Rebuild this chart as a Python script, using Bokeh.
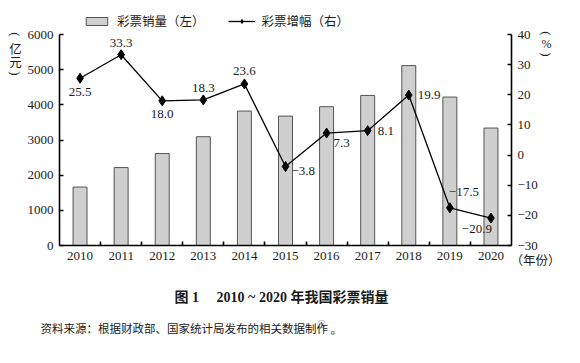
import math
from bokeh.plotting import figure
from bokeh.models import (Range1d, LinearAxis, FixedTicker, Label, Legend,
                          LegendItem, ColumnDataSource)
from bokeh.embed import file_html
from bokeh.resources import INLINE

# ---------------- data ----------------
years = list(range(2010, 2021))
sales = [1662, 2216, 2615, 3093, 3823, 3679, 3947, 4267, 5115, 4221, 3340]   # 亿元
growth = [25.5, 33.3, 18.0, 18.3, 23.6, -3.8, 7.3, 8.1, 19.9, -17.5, -20.9]  # %
growth_labels = [f"{g:.1f}".replace("-", "\u2212") for g in growth]
left_ticks = [0, 1000, 2000, 3000, 4000, 5000, 6000]
right_ticks = [-30, -20, -10, 0, 10, 20, 30, 40]
legend_labels = ["彩票销量（左）", "彩票增幅（右）"]
left_unit = ["亿", "元"]
right_unit = ["%"]
x_unit = "（年份）"
caption = "图 1\u00a0\u00a0\u00a0\u00a0 2010 ~ 2020 年我国彩票销量"
source_note = "资料来源：根据财政部、国家统计局发布的相关数据制作"

# ---------------- layout (page pixels) ----------------
W, H = 572, 355
AL, AR, AT, AB = 59, 511, 34, 245          # axes box: left, right, top(6000/40), bottom(0/-30)
SERIF = "Liberation Serif"
CJK = "Noto Sans CJK SC"
INK = "#1a1a1a"

x0, x1 = years[0] - 0.5, years[-1] + 0.5
pxx = (AR - AL) / (x1 - x0)
l0, l1 = left_ticks[0], left_ticks[-1]
pyl = (AB - AT) / (l1 - l0)
r0, r1 = right_ticks[0], right_ticks[-1]
pyr = (AB - AT) / (r1 - r0)

p = figure(width=W, height=H, output_backend="svg", toolbar_location=None,
           x_axis_location=None, y_axis_location=None,
           x_range=Range1d(x0 - AL / pxx, x1 + (W - AR) / pxx),
           y_range=Range1d(l0 - (H - AB) / pyl, l1 + AT / pyl),
           min_border=0, min_border_left=0, min_border_right=0,
           min_border_top=0, min_border_bottom=0)
p.extra_y_ranges = {"pct": Range1d(r0 - (H - AB) / pyr, r1 + AT / pyr)}
p.grid.visible = False
p.outline_line_color = None
p.background_fill_color = "white"
p.border_fill_color = "white"

def style_axis(ax):
    ax.axis_line_color = "black"
    ax.axis_line_width = 1.6
    ax.major_tick_line_color = "black"
    ax.major_tick_line_width = 1.6
    ax.major_tick_in = 4
    ax.major_tick_out = 0
    ax.minor_tick_line_color = None
    ax.major_label_text_font = SERIF
    ax.major_label_text_font_size = "13px"
    ax.major_label_text_color = INK
    ax.major_label_standoff = 6

ya = LinearAxis(ticker=FixedTicker(ticks=left_ticks), bounds=(l0, l1), fixed_location=x0)
style_axis(ya)
p.add_layout(ya, "left")

ra = LinearAxis(y_range_name="pct", ticker=FixedTicker(ticks=right_ticks),
                bounds=(r0, r1), fixed_location=x1)
style_axis(ra)
p.add_layout(ra, "right")

boundaries = [y + 0.5 for y in years[:-1]]
xa = LinearAxis(ticker=FixedTicker(ticks=years, minor_ticks=boundaries),
                bounds=(x0, x1), fixed_location=l0)
style_axis(xa)
xa.major_tick_line_color = None
xa.minor_tick_line_color = "black"
xa.minor_tick_line_width = 1.6
xa.minor_tick_in = 4
xa.minor_tick_out = 0
xa.major_label_overrides = {y: str(y) for y in years}
p.add_layout(xa, "below")

src = ColumnDataSource(dict(year=years, sales=sales, growth=growth, lab=growth_labels))
bars = p.vbar(x="year", top="sales", width=0.34, source=src,
              fill_color="#cfcfcf", line_color="#555555", line_width=1)

ln = p.line(x="year", y="growth", source=src, y_range_name="pct",
            line_color="black", line_width=1.3)
mk = p.scatter(x="year", y="growth", source=src, y_range_name="pct",
               marker="diamond", size=10, fill_color="black", line_color="black")

# point labels (offsets in pixels, +dy = downward)
offs = [(0, 14, "center"), (0, -12, "center"), (0, 13, "center"), (0, -12, "center"),
        (0, -13, "center"), (6, 4, "left"), (7, 10, "left"), (10, 0, "left"),
        (9, 0, "left"), (-1, -16, "left"), (1, 11, "right")]
for i, (dx, dy, al) in enumerate(offs):
    p.add_layout(Label(x=years[i], y=growth[i], y_range_name="pct",
                       text=growth_labels[i], x_offset=dx, y_offset=-dy,
                       text_align=al, text_baseline="middle",
                       text_font=SERIF, text_font_size="13px", text_color=INK))

leg = Legend(items=[LegendItem(label=legend_labels[0], renderers=[bars]),
                    LegendItem(label=legend_labels[1], renderers=[ln, mk])],
             orientation="horizontal", location=(83, H - 30),
             glyph_width=27, glyph_height=10, label_height=16, label_standoff=7,
             spacing=23, padding=0, margin=0, border_line_color=None,
             background_fill_alpha=0, label_text_font=CJK,
             label_text_font_size="12.5px", label_text_color=INK)
p.add_layout(leg, "center")

# texts placed in page pixels (screen units: origin bottom-left, y up)
def slabel(rx, ry, text, size="12.5px", font=CJK, align="center", bold=False,
           color=INK, angle=0.0):
    p.add_layout(Label(x=rx, y=H - ry, x_units="screen", y_units="screen",
                       text=text, text_align=align, text_baseline="middle",
                       text_font=font, text_font_size=size, text_color=color,
                       text_font_style="bold" if bold else "normal", angle=angle))

def vparen(rx, ry, ch):
    slabel(rx, ry, ch, size="13px", font=SERIF, angle=-math.pi / 2)

# vertical unit labels: (亿元) on the left, (%) on the right
vparen(15, 34, "(")
for ch, ry in zip(left_unit, [48, 61]):
    slabel(15, ry, ch)
vparen(15, 73, ")")
vparen(546, 33, "(")
slabel(546, 43, right_unit[0], size="12px", font=SERIF)
vparen(546, 54, ")")

slabel(510, 259, x_unit, align="left")
slabel(281, 297, caption, size="14px", font=f"{SERIF}, {CJK}", bold=True)
slabel(40, 327, source_note, size="11.5px", align="left")
slabel(317, 323, "①", size="8px", align="left")
slabel(330, 328, "。", size="11.5px", align="left")

open("out.html", "w").write(file_html(p, INLINE))
